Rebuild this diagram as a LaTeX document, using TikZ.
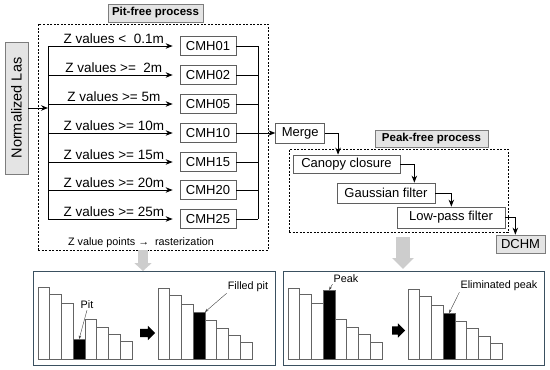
\documentclass[tikz,border=0pt]{standalone}
\usepackage{fontspec}
\setmainfont{Liberation Sans}
\usetikzlibrary{positioning,calc,arrows.meta,shapes.arrows}
\usepackage{xcolor}
\definecolor{tagfill}{RGB}{228,228,228}
\definecolor{tagline}{RGB}{125,125,125}
\definecolor{boxline}{RGB}{95,95,95}
\definecolor{panelline}{RGB}{58,80,96}
\definecolor{dropgray}{RGB}{205,205,205}
\definecolor{barline}{RGB}{100,100,100}

\begin{document}
\begin{tikzpicture}[x=1pt, y=-1pt,
    source/.style={rectangle, draw=tagline, fill=tagfill, line width=0.7pt, inner sep=0pt,
                   font=\fontsize{14.5}{16}\selectfont},
    tag/.style={rectangle, draw=tagline, fill=tagfill, line width=0.7pt, inner sep=0pt,
                font=\fontsize{11.5}{13}\selectfont\bfseries},
    cmh/.style={rectangle, draw=boxline, line width=0.7pt, minimum width=56pt,
                minimum height=19pt, inner sep=0pt, font=\fontsize{13}{15}\selectfont},
    stage/.style={rectangle, draw=boxline, line width=0.7pt, inner sep=0pt,
                  font=\fontsize{13}{15}\selectfont},
    zlabel/.style={font=\fontsize{13.5}{15}\selectfont, inner sep=1.5pt},
    dashbox/.style={rectangle, draw=black, line width=0.6pt, dash pattern=on 2pt off 1.5pt,
                    inner sep=0pt},
    panel/.style={rectangle, draw=panelline, line width=1pt, minimum height=94pt,
                  inner sep=0pt, outer sep=0pt},
    bar/.style={rectangle, draw=barline, line width=0.6pt, minimum width=11.75pt,
                inner sep=0pt, outer sep=0pt, anchor=south west},
    note/.style={font=\fontsize{10.8}{12}\selectfont, inner sep=1pt},
    link/.style={line width=1pt},
    arrow/.style={-{Stealth[length=7pt,width=5.5pt]}, line width=1pt},
    pointer/.style={-{Stealth[length=3.5pt,width=2.5pt]}, line width=0.4pt, draw=black!75},
    shiftarrow/.style={single arrow, fill=black, draw=none, inner sep=4pt, minimum height=15pt,
                       single arrow head extend=3pt},
    drop/.style={draw=dropgray}
]
\useasboundingbox (0,0) rectangle (550,370);

% pit-free process
\node[source, rotate=90, minimum width=132pt, minimum height=23pt] (las) at (16.5,108) {Normalized Las};

\coordinate (br01) at (48,46);
\coordinate (bustop) at (258,46);
\coordinate (busbot) at (258,219);

\foreach \n/\yy/\cond in {01/46/{<\ \ 0.1m}, 02/75/{>=\ \ 2m}, 05/104/{>= 5m}, 10/133/{>= 10m},
                          15/162/{>= 15m}, 20/190/{>= 20m}, 25/219/{>= 25m}}{
    \node[cmh] (cmh\n) at (208,\yy) {CMH\n};
    \coordinate (br\n) at (48,\yy);
    \draw[arrow, shorten >=7pt] (br\n) -- node[above, zlabel] {Z values \cond} (cmh\n);
    \draw[link] (cmh\n.east) -- (cmh\n.east -| bustop);
}
\draw[link] (br01) -- (br25);
\draw[link] (bustop) -- (busbot);
\draw[arrow] (las) -- (las -| br01);

\node[dashbox, minimum width=230pt, minimum height=226pt] (pitbox) at (153,137) {};
\node[tag, minimum width=95pt, minimum height=18pt, above=1.5pt of pitbox.north, xshift=2.5pt] (pittag) {Pit-free process};
\node[note] (rastnote) at (141,243) {Z value points →\ \ rasterization};

% peak-free process
\node[stage, right=39pt of cmh10, minimum width=49pt, minimum height=20pt] (merge) {Merge};
\draw[arrow] (cmh10.east -| bustop) -- (merge);

\node[dashbox, minimum width=219pt, minimum height=83pt] (peakbox) at (398.5,190.5) {};
\node[tag, minimum width=113pt, minimum height=17pt, above=1pt of peakbox.north, xshift=33pt] (peaktag) {Peak-free process};

\node[stage, minimum width=107pt, minimum height=18pt] (canopy) at (346.5,164) {Canopy closure};
\node[stage, minimum width=98pt, minimum height=20pt] (gauss) at (386,193) {Gaussian filter};
\node[stage, minimum width=108pt, minimum height=21pt] (lowpass) at (451,217.5) {Low-pass filter};
\node[stage, fill=tagfill, draw=tagline, minimum width=49pt, minimum height=18pt] (dchm) at (520.5,244) {DCHM};

\draw[arrow] (merge.east) -- ++(13,0) coordinate (m1) -- (m1 |- canopy.north);
\draw[arrow] (canopy.east) -- ++(14,0) coordinate (m2) -- (m2 |- gauss.north);
\draw[arrow] (gauss.east) -- ++(16,0) coordinate (m3) -- (m3 |- lowpass.north);
\draw[arrow] (lowpass.east) -- ++(10,0) coordinate (m4) -- (m4 |- dchm.north);

% result panels
\node[panel, minimum width=242pt] (pitpanel) at (154,318) {};
\node[panel, minimum width=261pt] (peakpanel) at (413.5,318) {};

\coordinate (pitdrop) at (143,250);
\coordinate (peakdrop) at (403,237);
\draw[drop, line width=10pt, -{Triangle[width=17pt,length=8pt]}] (pitdrop) -- (pitdrop |- pitpanel.north);
\draw[drop, line width=14pt, -{Triangle[width=21pt,length=11pt]}] (peakdrop) -- ([yshift=2pt]peakdrop |- peakpanel.north);

\foreach \h/\f [count=\i] in {287/white, 294/white, 303/white, 339/black, 319/white, 327/white, 334/white, 341/white}
    \node[bar, fill=\f, minimum height=359-\h] (pit\i) at ({38+11.75*(\i-1)},359) {};
\foreach \h/\f [count=\i] in {288/white, 295/white, 304/white, 312/black, 320/white, 328/white, 335/white, 342/white}
    \node[bar, fill=\f, minimum height=359-\h] (fill\i) at ({158+11.75*(\i-1)},359) {};
\foreach \h/\f [count=\i] in {288/white, 294/white, 303/white, 290/black, 319/white, 327/white, 334/white, 342/white}
    \node[bar, fill=\f, minimum height=359-\h] (peak\i) at ({288+11.75*(\i-1)},359) {};
\foreach \h/\f [count=\i] in {289/white, 296/white, 305/white, 313/black, 321/white, 328/white, 336/white, 343/white}
    \node[bar, fill=\f, minimum height=359-\h] (elim\i) at ({408+11.75*(\i-1)},359) {};

\node[shiftarrow] (pitshift) at (145.5,333) {};
\node[shiftarrow, minimum height=13pt] (peakshift) at (396.5,330.5) {};

\node[note] (pitlbl) at (87,305) {Pit};
\node[note] (filllbl) at (248,287) {Filled pit};
\node[note] (peaklbl) at (346,279) {Peak};
\node[note] (elimlbl) at (499,286) {Eliminated peak};

\draw[pointer] (pitlbl.south) -- (pit4.north);
\draw[pointer] (filllbl.south west) -- (fill4.north east);
\draw[pointer] (peaklbl.south west) -- (peak4.north);
\draw[pointer] (elimlbl.south west) -- (elim4.north);

\end{tikzpicture}
\end{document}
